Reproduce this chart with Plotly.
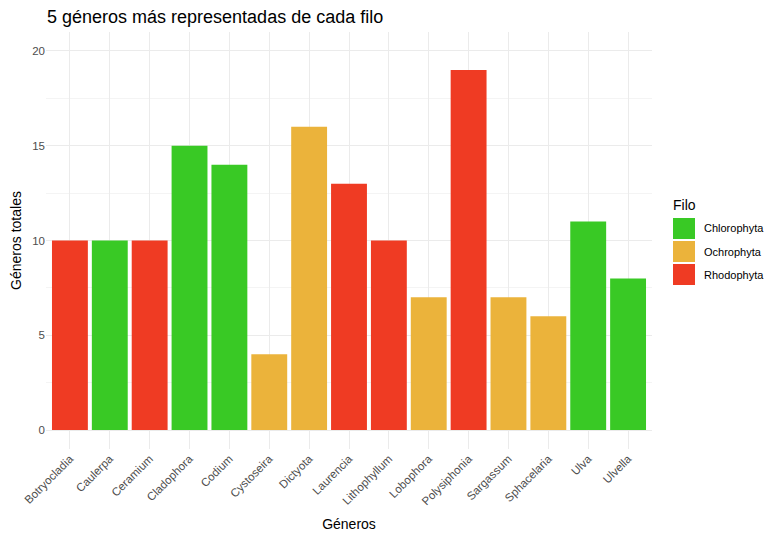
import plotly.graph_objects as go

# Data
generos = ["Botryocladia", "Caulerpa", "Ceramium", "Cladophora", "Codium",
           "Cystoseira", "Dictyota", "Laurencia", "Lithophyllum", "Lobophora",
           "Polysiphonia", "Sargassum", "Sphacelaria", "Ulva", "Ulvella"]
totales = [10, 10, 10, 15, 14, 4, 16, 13, 10, 7, 19, 7, 6, 11, 8]
filos = ["Rhodophyta", "Chlorophyta", "Rhodophyta", "Chlorophyta", "Chlorophyta",
         "Ochrophyta", "Ochrophyta", "Rhodophyta", "Rhodophyta", "Ochrophyta",
         "Rhodophyta", "Ochrophyta", "Ochrophyta", "Chlorophyta", "Chlorophyta"]
filo_orden = ["Chlorophyta", "Ochrophyta", "Rhodophyta"]
colores = {"Chlorophyta": "#39C925", "Ochrophyta": "#EBB33B", "Rhodophyta": "#EF3B23"}

fig = go.Figure()
for filo in filo_orden:
    xs = [g for g, f in zip(generos, filos) if f == filo]
    ys = [t for t, f in zip(totales, filos) if f == filo]
    fig.add_trace(go.Bar(x=xs, y=ys, name=filo, marker_color=colores[filo],
                         marker_line_width=0, width=0.9, showlegend=False))

# ggplot-style legend: big square keys drawn in paper coordinates
W, H = 606.0, 417.0
def px(v): return (v - 46) / W
def py(v): return (449 - v) / H

fig.add_annotation(text="Filo", xref="paper", yref="paper", x=px(671), y=py(205),
                   xanchor="left", yanchor="middle", showarrow=False,
                   font=dict(size=14, color="black"))
for i, filo in enumerate(filo_orden):
    top = 218 + i * 23
    fig.add_shape(type="rect", xref="paper", yref="paper",
                  x0=px(673), x1=px(695), y0=py(top + 21), y1=py(top),
                  fillcolor=colores[filo], line_width=0)
    fig.add_annotation(text=filo, xref="paper", yref="paper", x=px(702),
                       y=py(top + 10.5), xanchor="left", yanchor="middle",
                       showarrow=False, font=dict(size=11, color="black"))

# the page body adds an 8px offset, so margins are shifted by 8
grid = "#EBEBEB"
fig.update_layout(
    width=784, height=540,
    paper_bgcolor="white", plot_bgcolor="white",
    margin=dict(l=38, r=140, t=24, b=99, autoexpand=False),
    font=dict(family="Liberation Sans, Arial, sans-serif", color="#000000"),
    title=dict(text="5 géneros más representadas de cada filo", x=39 / 784,
               xanchor="left", xref="container", y=1 - 9 / 540, yanchor="middle",
               pad=dict(l=0, t=0), font=dict(size=18, color="black")),
    bargap=0.1,
    xaxis=dict(categoryorder="array", categoryarray=generos, tickangle=-45,
               range=[-0.6, len(generos) - 0.4], automargin=False,
               showgrid=True, gridcolor=grid, gridwidth=1, zeroline=False,
               tickfont=dict(size=11.5, color="#4D4D4D"), ticks="",
               title=dict(text="Géneros", font=dict(size=14), standoff=12)),
    yaxis=dict(range=[-1, 21], tickvals=[0, 5, 10, 15, 20], showgrid=True,
               automargin=False,
               gridcolor=grid, gridwidth=1, zeroline=False,
               minor=dict(tickvals=[2.5, 7.5, 12.5, 17.5], showgrid=True,
                          gridcolor="#F4F4F4", gridwidth=1),
               tickfont=dict(size=11.5, color="#4D4D4D"), ticks="",
               title=dict(text="Géneros totales", font=dict(size=14), standoff=10)),
)

fig.write_html("out.html")
